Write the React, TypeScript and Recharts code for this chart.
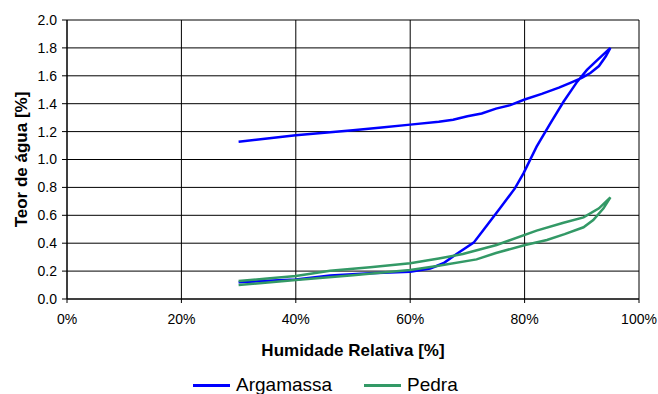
import {
  CartesianGrid,
  Legend,
  Line,
  LineChart,
  XAxis,
  YAxis,
} from 'recharts';

// relative humidity [%] and water content [%], adsorption then desorption
const argamassaRh = [
  30, 35, 40, 46, 53, 60, 63.5, 65.8, 68.1, 71.1, 72.8, 75.7, 78.3, 79.8, 82.1,
  84.5, 86.8, 89.2, 90.9, 92.7, 95,
  94.2, 93, 91.5, 90, 88, 86, 83, 80, 77.5, 75, 72.5, 70, 67.5, 65, 60, 55, 50,
  46, 40, 35, 30,
];
const argamassaW = [
  0.12, 0.13, 0.14, 0.169, 0.184, 0.196, 0.219, 0.256, 0.322, 0.404, 0.495,
  0.65, 0.793, 0.901, 1.092, 1.259, 1.414, 1.558, 1.642, 1.713, 1.8,
  1.74, 1.67, 1.62, 1.585, 1.55, 1.515, 1.47, 1.43, 1.39, 1.365, 1.33, 1.31,
  1.285, 1.27, 1.25, 1.23, 1.21, 1.195, 1.173, 1.15, 1.128,
];

const pedraRh = [
  30, 40, 50, 60, 64.7, 71.6, 75, 80.1, 83.9, 87, 90.3, 92, 93.8, 95,
  93, 90.3, 86.8, 82.1, 75.1, 69.2, 65, 60, 53, 46, 40, 35, 30,
];
const pedraW = [
  0.1, 0.136, 0.17, 0.208, 0.236, 0.284, 0.33, 0.387, 0.423, 0.465, 0.514,
  0.566, 0.65, 0.729,
  0.65, 0.585, 0.547, 0.49, 0.387, 0.322, 0.29, 0.256, 0.228, 0.203, 0.165,
  0.147, 0.129,
];

const xTicks = [0, 20, 40, 60, 80, 100];
const yTicks = [0, 0.2, 0.4, 0.6, 0.8, 1.0, 1.2, 1.4, 1.6, 1.8, 2.0];

const seriesNames = ['Argamassa', 'Pedra'];
const seriesColors = ['#0000FF', '#339966'];

const argamassaData = argamassaRh.map((rh, i) => ({ rh, w: argamassaW[i] }));
const pedraData = pedraRh.map((rh, i) => ({ rh, w: pedraW[i] }));

const FONT = '"Liberation Sans", Arial, sans-serif';

function CustomLegend() {
  return (
    <div
      style={{
        position: 'relative',
        height: 30,
        fontFamily: FONT,
        fontSize: 19,
        color: '#000',
      }}
    >
      {seriesNames.map((name, i) => (
        <div
          key={name}
          style={{
            position: 'absolute',
            left: i === 0 ? 193 : 364,
            top: 10,
            display: 'flex',
            alignItems: 'center',
            height: 22,
          }}
        >
          <div
            style={{
              width: 37,
              height: 3,
              background: seriesColors[i],
              marginRight: 6,
            }}
          />
          <span>{name}</span>
        </div>
      ))}
    </div>
  );
}

export default function App() {
  return (
    <div style={{ position: 'absolute', left: 0, top: 0, background: '#fff' }}>
      <LineChart
        width={658}
        height={394}
        margin={{ top: 20, right: 19, bottom: 0, left: 0 }}
      >
        <CartesianGrid stroke="#000" strokeWidth={1} />
        <XAxis
          dataKey="rh"
          type="number"
          domain={[0, 100]}
          ticks={xTicks}
          allowDuplicatedCategory={false}
          tickFormatter={v => `${v}%`}
          stroke="#000"
          tickSize={4}
          tickMargin={11}
          height={65}
          tick={{ fill: '#000', fontSize: 14, fontFamily: FONT }}
          label={{
            value: 'Humidade Relativa [%]',
            position: 'center',
            dy: 18,
            fill: '#000',
            fontSize: 17,
            fontWeight: 'bold',
            fontFamily: FONT,
          }}
        />
        <YAxis
          type="number"
          domain={[0, 2]}
          ticks={yTicks}
          tickFormatter={v => v.toFixed(1)}
          stroke="#000"
          tickSize={5}
          tickMargin={5}
          width={67}
          tick={{ fill: '#000', fontSize: 14, fontFamily: FONT }}
          label={{
            value: 'Teor de água [%]',
            angle: -90,
            position: 'center',
            dx: -13,
            fill: '#000',
            fontSize: 17,
            fontWeight: 'bold',
            fontFamily: FONT,
          }}
        />
        <Line
          data={argamassaData}
          dataKey="w"
          name={seriesNames[0]}
          type="linear"
          stroke={seriesColors[0]}
          strokeWidth={2.5}
          dot={false}
          activeDot={false}
          isAnimationActive={false}
        />
        <Line
          data={pedraData}
          dataKey="w"
          name={seriesNames[1]}
          type="linear"
          stroke={seriesColors[1]}
          strokeWidth={2.5}
          dot={false}
          activeDot={false}
          isAnimationActive={false}
        />
        <Legend
          verticalAlign="bottom"
          content={<CustomLegend />}
          wrapperStyle={{ height: 30, width: 658, left: 0 }}
        />
      </LineChart>
    </div>
  );
}
